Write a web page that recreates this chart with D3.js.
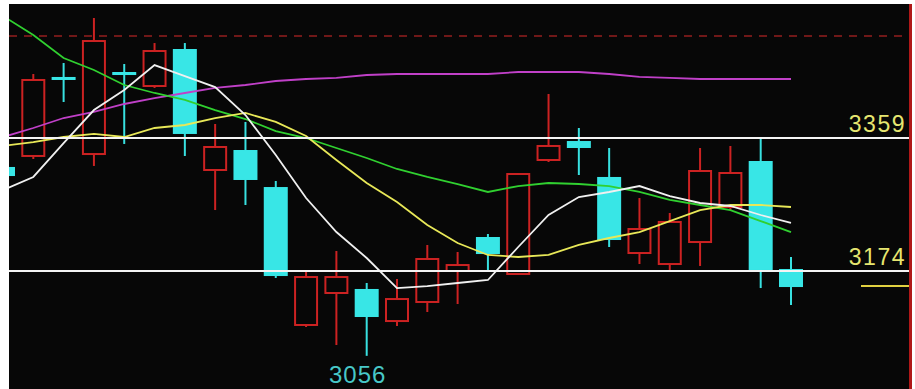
<!DOCTYPE html>
<html>
<head>
<meta charset="UTF-8" />
<title>K线图</title>
<script src="https://d3js.org/d3.v7.min.js"></script>
<style>
    html, body { margin: 0; padding: 0; background: #ffffff; }
    svg { display: block; }
</style>
</head>
<body>
<div id="chart"></div>
<script>
    const width = 915;
    const height = 389;
    const plotLeft = 9;
    const plotTop = 4;
    const plotRight = 909;

    // 开 高 低 收
    const opens  = [3318.7, 3334.0, 3443.9, 3336.7, 3450.8, 3431.3, 3482.8, 3314.5, 3342.3, 3290.8, 3098.9, 3143.4, 3149.0, 3104.4, 3130.9, 3174.0, 3221.3, 3169.8, 3328.4, 3354.8, 3304.8, 3199.0, 3183.7, 3214.3, 3263.0, 3327.0, 3176.8];
    const highs  = [3321.4, 3448.0, 3463.3, 3525.9, 3461.9, 3491.1, 3491.1, 3378.5, 3381.3, 3299.2, 3175.4, 3201.8, 3157.3, 3162.9, 3210.2, 3200.4, 3225.5, 3310.3, 3420.2, 3372.9, 3345.1, 3275.5, 3254.7, 3345.1, 3347.9, 3360.4, 3193.5];
    const lows   = [3303.4, 3329.8, 3409.1, 3320.1, 3350.7, 3428.6, 3334.0, 3258.8, 3265.8, 3164.3, 3096.1, 3071.1, 3056.0, 3097.5, 3117.0, 3128.1, 3172.6, 3168.4, 3325.6, 3307.5, 3207.4, 3183.7, 3175.4, 3181.0, 3258.8, 3150.3, 3126.7];
    const closes = [3306.1, 3439.7, 3439.7, 3493.9, 3446.6, 3480.0, 3364.6, 3346.5, 3300.6, 3167.0, 3165.6, 3165.6, 3110.0, 3135.0, 3190.7, 3182.3, 3197.6, 3308.9, 3347.9, 3345.1, 3217.1, 3232.4, 3242.2, 3313.1, 3310.3, 3175.4, 3151.7];

    // 均线
    const ma5  = [3286.7, 3304.8, 3352.0, 3397.9, 3425.8, 3460.5, 3445.2, 3429.9, 3391.0, 3335.4, 3275.5, 3228.2, 3192.1, 3150.3, 3153.1, 3157.3, 3161.5, 3207.4, 3251.9, 3276.9, 3283.9, 3292.2, 3278.3, 3268.6, 3264.4, 3251.9, 3240.8];
    const ma10 = [3347.9, 3353.4, 3360.4, 3364.6, 3360.4, 3372.9, 3377.1, 3386.8, 3393.8, 3381.3, 3361.8, 3328.4, 3296.4, 3270.0, 3238.0, 3212.9, 3196.3, 3193.5, 3196.3, 3210.2, 3219.9, 3228.2, 3243.5, 3258.8, 3265.8, 3265.8, 3263.0];
    const ma20 = [3528.7, 3502.3, 3470.3, 3453.6, 3432.7, 3421.6, 3411.9, 3397.9, 3385.4, 3368.7, 3359.0, 3345.1, 3331.2, 3315.9, 3304.8, 3295.0, 3283.9, 3292.2, 3296.4, 3295.0, 3292.2, 3283.9, 3272.8, 3265.8, 3258.8, 3243.5, 3228.2];
    const ma60 = [3360.4, 3372.9, 3386.8, 3395.2, 3406.3, 3414.6, 3421.6, 3428.6, 3432.7, 3438.3, 3441.1, 3442.5, 3446.6, 3448.0, 3448.0, 3448.0, 3448.0, 3450.8, 3450.8, 3450.8, 3448.0, 3443.9, 3442.5, 3441.1, 3441.1, 3441.1, 3441.1];

    const levelLines = [3359, 3174];
    const dashLevel = 3501;
    const lowLabel = 3056;

    const candles = opens.map((o, i) => ({ i, o, h: highs[i], l: lows[i], c: closes[i] }));

    const x = d3.scaleLinear().domain([0, candles.length - 1]).range([3, 791]);
    const y = d3.scaleLinear().domain([3174, 3359]).range([271, 138]);
    const bodyW = 22;

    const svg = d3.select("#chart")
        .append("svg")
        .attr("width", width)
        .attr("height", height);

    // 外框
    svg.append("rect").attr("width", width).attr("height", height).attr("fill", "#ffffff");
    svg.append("rect")
        .attr("x", plotLeft).attr("y", plotTop)
        .attr("width", plotRight - plotLeft).attr("height", height - plotTop)
        .attr("fill", "#070707");
    svg.append("rect")
        .attr("x", plotRight).attr("y", plotTop)
        .attr("width", 3).attr("height", height - plotTop)
        .attr("fill", "#b01818");

    svg.append("clipPath").attr("id", "plot")
        .append("rect")
        .attr("x", plotLeft).attr("y", plotTop)
        .attr("width", plotRight - plotLeft).attr("height", height - plotTop);

    const g = svg.append("g").attr("clip-path", "url(#plot)");

    // 虚线
    g.append("line")
        .attr("x1", plotLeft).attr("x2", plotRight)
        .attr("y1", y(dashLevel)).attr("y2", y(dashLevel))
        .attr("stroke", "#701818")
        .attr("stroke-width", 2)
        .attr("stroke-dasharray", "8,7");

    // 蜡烛
    const up = candles.filter(d => d.c >= d.o);
    const down = candles.filter(d => d.c < d.o);

    const upG = g.append("g").selectAll("g").data(up).join("g");
    upG.append("line")
        .attr("x1", d => x(d.i)).attr("x2", d => x(d.i))
        .attr("y1", d => y(d.h)).attr("y2", d => y(d.c))
        .attr("stroke", "#cc2222").attr("stroke-width", 2);
    upG.append("line")
        .attr("x1", d => x(d.i)).attr("x2", d => x(d.i))
        .attr("y1", d => y(d.o)).attr("y2", d => y(d.l))
        .attr("stroke", "#cc2222").attr("stroke-width", 2);
    upG.append("rect")
        .attr("x", d => x(d.i) - bodyW / 2)
        .attr("y", d => y(d.c))
        .attr("width", bodyW)
        .attr("height", d => Math.max(1, y(d.o) - y(d.c)))
        .attr("fill", "none")
        .attr("stroke", "#cc2222").attr("stroke-width", 2);

    const downG = g.append("g").selectAll("g").data(down).join("g");
    downG.append("line")
        .attr("x1", d => x(d.i)).attr("x2", d => x(d.i))
        .attr("y1", d => y(d.h)).attr("y2", d => y(d.l))
        .attr("stroke", "#38e0e0").attr("stroke-width", 2);
    downG.append("rect")
        .attr("x", d => x(d.i) - bodyW / 2 - 1)
        .attr("y", d => y(d.o))
        .attr("width", bodyW + 2)
        .attr("height", d => Math.max(3, y(d.c) - y(d.o)))
        .attr("fill", "#38e6e6");

    // 均线
    const line = d3.line().x((d, i) => x(i)).y(d => y(d));
    const maSeries = [
        { data: ma60, color: "#c040c8" },
        { data: ma20, color: "#30d030" },
        { data: ma10, color: "#e8e858" },
        { data: ma5, color: "#f0f0f0" }
    ];
    g.selectAll("path.ma").data(maSeries).join("path")
        .attr("class", "ma")
        .attr("d", d => line(d.data))
        .attr("fill", "none")
        .attr("stroke", d => d.color)
        .attr("stroke-width", 1.8);

    // 水平线
    g.selectAll("line.level").data(levelLines).join("line")
        .attr("class", "level")
        .attr("x1", plotLeft).attr("x2", plotRight)
        .attr("y1", d => y(d)).attr("y2", d => y(d))
        .attr("stroke", "#f4f4f4").attr("stroke-width", 2);

    svg.selectAll("text.level").data(levelLines).join("text")
        .attr("class", "level")
        .attr("x", 906)
        .attr("y", d => y(d) - 6)
        .attr("text-anchor", "end")
        .attr("fill", "#e6e670")
        .attr("font-family", "Liberation Sans, Arial, sans-serif")
        .attr("font-size", 23)
        .attr("letter-spacing", 1.5)
        .text(d => d);

    g.append("line")
        .attr("x1", 861).attr("x2", plotRight)
        .attr("y1", y(3174) + 15).attr("y2", y(3174) + 15)
        .attr("stroke", "#e0d040").attr("stroke-width", 2);

    const lowIdx = lows.indexOf(d3.min(lows));
    svg.append("text")
        .attr("x", x(lowIdx) - 9)
        .attr("y", 383)
        .attr("text-anchor", "middle")
        .attr("fill", "#48c8c8")
        .attr("font-family", "Liberation Sans, Arial, sans-serif")
        .attr("font-size", 24)
        .attr("letter-spacing", 1)
        .text(lowLabel);
</script>
</body>
</html>
